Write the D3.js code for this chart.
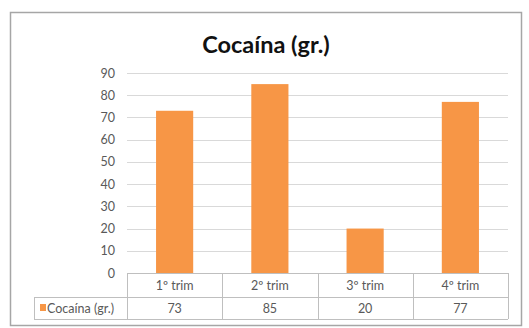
<!DOCTYPE html>
<html><head><meta charset="utf-8">
<script src="https://cdn.jsdelivr.net/npm/d3@7"></script>
<style>body{margin:0;background:#fff}svg{display:block}</style>
</head><body><svg id="c" width="529" height="328"></svg>
<script>
const title = "Cocaína (gr.)";
const categories = ["1º trim", "2º trim", "3º trim", "4º trim"];
const values = [73, 85, 20, 77];
const seriesName = "Cocaína (gr.)";
const yTicks = [0, 10, 20, 30, 40, 50, 60, 70, 80, 90];

const svg = d3.select("#c");
const font = "Lato, 'Open Sans', sans-serif";
const orange = "#F79646";
const grid = "#d9d9d9";
const txt = "#595959";
const fs = 12.5;

svg.append("rect").attr("x", 10.5).attr("y", 12.5).attr("width", 511).attr("height", 313)
  .attr("fill", "#fff").attr("stroke", "#a6a6a6").attr("stroke-width", 1.5);

const L = 127, R = 508, T = 73, B = 273;
const x = d3.scaleBand().domain(categories).range([L, R]).paddingInner(0.61).paddingOuter(0.305);
const xc = d3.scaleBand().domain(categories).range([L, R]);
const y = d3.scaleLinear().domain([0, 90]).range([B, T]);

svg.append("text").attr("x", 266).attr("y", 53).attr("text-anchor", "middle")
  .attr("font-family", font).attr("font-weight", "bold").attr("font-size", 23.5).attr("fill", "#111").text(title);

svg.append("g").selectAll("line").data(yTicks).join("line")
  .attr("x1", L).attr("x2", R).attr("y1", d => Math.round(y(d)) + 0.5).attr("y2", d => Math.round(y(d)) + 0.5)
  .attr("stroke", grid).attr("stroke-width", 1);

const ax = svg.append("g").attr("transform", `translate(${L},0)`)
  .call(d3.axisLeft(y).tickValues(yTicks).tickSize(0).tickPadding(12));
ax.select(".domain").remove();
ax.selectAll("text").attr("font-family", font).attr("font-size", fs).attr("fill", txt);

svg.append("g").selectAll("rect").data(values).join("rect")
  .attr("x", (d, i) => x(categories[i])).attr("width", x.bandwidth())
  .attr("y", d => y(d)).attr("height", d => B - y(d)).attr("fill", orange);

// data table
const r1 = B, r2 = 297, r3 = 319, tl = 34;
const tg = svg.append("g").attr("stroke", "#bfbfbf").attr("stroke-width", 1).attr("fill", "none");
tg.append("line").attr("x1", L).attr("x2", R).attr("y1", r1 + 0.5).attr("y2", r1 + 0.5);
tg.append("line").attr("x1", tl).attr("x2", R).attr("y1", r2 + 0.5).attr("y2", r2 + 0.5);
tg.append("line").attr("x1", tl).attr("x2", R).attr("y1", r3 + 0.5).attr("y2", r3 + 0.5);
tg.append("line").attr("x1", tl + 0.5).attr("x2", tl + 0.5).attr("y1", r2).attr("y2", r3);
const bounds = categories.map(c => xc(c)).concat([R]);
tg.selectAll("line.v").data(bounds).join("line").attr("class", "v")
  .attr("x1", d => Math.round(d) + 0.5).attr("x2", d => Math.round(d) + 0.5).attr("y1", r1).attr("y2", r3);

svg.append("g").selectAll("text").data(categories).join("text")
  .attr("x", d => xc(d) + xc.bandwidth() / 2).attr("y", (r1 + r2) / 2 + 4.5).attr("text-anchor", "middle")
  .attr("font-family", font).attr("font-size", fs).attr("fill", txt).text(d => d);
svg.append("g").selectAll("text").data(values).join("text")
  .attr("x", (d, i) => xc(categories[i]) + xc.bandwidth() / 2).attr("y", (r2 + r3) / 2 + 4.5).attr("text-anchor", "middle")
  .attr("font-family", font).attr("font-size", fs).attr("fill", txt).text(d => d);

svg.append("rect").attr("x", 40).attr("y", 304).attr("width", 6).attr("height", 7).attr("fill", orange);
svg.append("text").attr("x", 47).attr("y", (r2 + r3) / 2 + 4.5).attr("font-family", font).attr("font-size", fs)
  .attr("fill", txt).text(seriesName);
</script></body></html>
